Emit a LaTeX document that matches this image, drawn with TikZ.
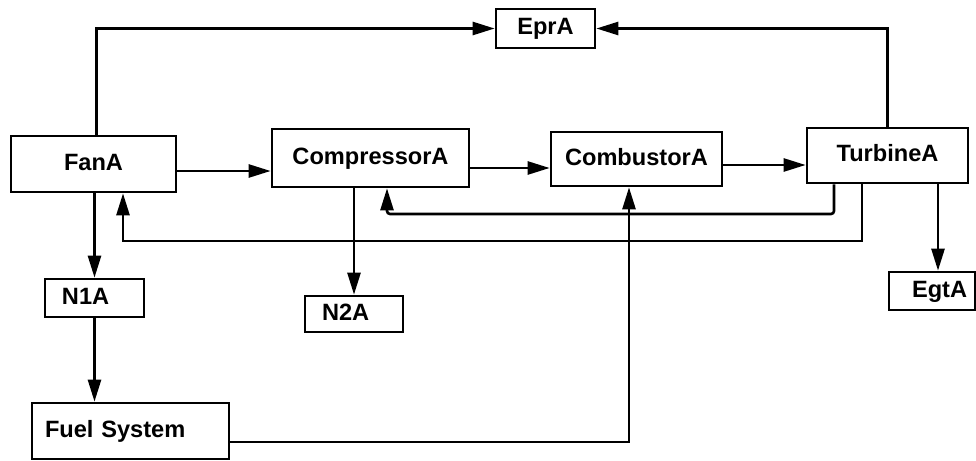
\documentclass[tikz,border=0pt]{standalone}
\usepackage{fontspec}
\setmainfont{Liberation Sans}
\usetikzlibrary{arrows.meta}
\tikzset{
  box/.style={draw, line width=2.7pt, inner sep=0pt, text height=17pt, text depth=5pt,
    font=\fontsize{23.6}{28}\selectfont\bfseries},
  lbox/.style={box, align=left},
  arr/.style={line width=2.6pt, -{Triangle[length=22pt,width=13pt]}}
}
\begin{document}
\begin{tikzpicture}[x=1pt,y=-1pt]
\useasboundingbox (0,0) rectangle (976,460);
% nodes
\node[box, minimum width=165pt, minimum height=56pt] (fan) at (93.5,164) {FanA};
\node[box, minimum width=197pt, minimum height=58pt] (comp) at (370.5,158) {CompressorA};
\node[box, minimum width=171pt, minimum height=54pt] (comb) at (636.5,159) {CombustorA};
\node[box, minimum width=161pt, minimum height=55pt] (turb) at (887.5,155.5) {TurbineA};
\node[box, minimum width=99pt, minimum height=39pt] (epr) at (545.5,28.5) {EprA};
\node[lbox, text width=99pt, minimum width=99pt, minimum height=38pt] (n1a) at (94.5,298) {\hspace*{17pt}N1A};
\node[lbox, text width=98pt, minimum width=98pt, minimum height=36pt] (n2a) at (354,314) {\hspace*{17pt}N2A};
\node[lbox, text width=86pt, minimum width=86pt, minimum height=38pt] (egt) at (932,291) {\hspace*{23pt}EgtA};
\node[lbox, text width=197pt, minimum width=197pt, minimum height=56pt] (fuel) at (130.5,431) {\hspace*{13pt}Fuel System};
% helper coordinates
\coordinate (h1) at (0,171);
\coordinate (h2) at (0,168);
\coordinate (h3) at (0,165);
\coordinate (tc) at (834,214);
\coordinate (cc) at (387,214);
\coordinate (tf) at (862,241);
\coordinate (ff) at (123,241);
\coordinate (fc) at (629,442);
\coordinate (eg) at (938,0);
% connectors
\draw[arr] ([xshift=3pt]fan.north) |- (epr.west);
\draw[arr] (turb.north) |- (epr.east);
\draw[arr] (fan.east |- h1) -- (comp.west |- h1);
\draw[arr] (comp.east |- h2) -- (comb.west |- h2);
\draw[arr] (comb.east |- h3) -- (turb.west |- h3);
\draw[arr] (n1a.north |- fan.south) -- (n1a.north);
\draw[arr] (n1a.south) -- (fuel.north -| n1a.south);
\draw[arr] (n2a.north |- comp.south) -- (n2a.north);
\draw[arr] (turb.south -| eg) -- (egt.north -| eg);
\draw[arr, rounded corners=3pt] (turb.south -| tc) -- (tc) -- (cc) -- (comp.south -| cc);
\draw[arr] (turb.south -| tf) -- (tf) -- (ff) -- (fan.south -| ff);
\draw[arr] (fuel.east |- fc) -- (fc) -- (comb.south -| fc);
\end{tikzpicture}
\end{document}
